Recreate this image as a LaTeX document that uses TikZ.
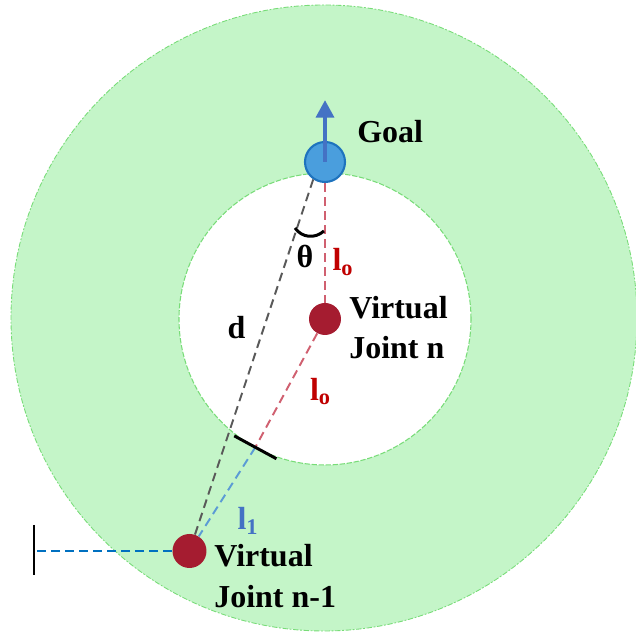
\documentclass[tikz,border=0pt]{standalone}
\usepackage{fontspec}
\setmainfont{Liberation Serif}
\usepackage{xcolor}
\usetikzlibrary{positioning,calc,arrows.meta}
\definecolor{ringgreen}{RGB}{196,245,200}
\definecolor{ringedge}{RGB}{120,220,120}
\definecolor{goalblue}{RGB}{74,158,221}
\definecolor{goaledge}{RGB}{30,115,190}
\definecolor{arrowblue}{RGB}{68,114,196}
\definecolor{jointred}{RGB}{165,28,48}
\definecolor{linkred}{RGB}{208,96,112}
\definecolor{labelred}{RGB}{192,0,0}
\definecolor{linkblue}{RGB}{91,155,213}
\definecolor{wallblue}{RGB}{0,112,192}
\begin{document}
\begin{tikzpicture}[x=0.02cm,y=0.02cm,
  font=\fontsize{18.2}{23}\selectfont\bfseries,
  joint/.style={circle,fill=jointred,inner sep=0pt,minimum size=0.68cm},
  link/.style={dashed,dash pattern=on 5pt off 3pt,line width=1.1pt},
  lbl/.style={inner sep=0pt}]
\useasboundingbox (0,0) rectangle (636,634);
\begin{scope}
\clip (0,0) rectangle (636,634);
\fill[ringgreen] (324,316) circle (313);
\draw[ringedge,dash pattern=on 3pt off 1pt on 1pt off 1pt,line width=0.5pt] (324,316) circle (313);
\end{scope}
\fill[white] (325,315) circle (146);
\draw[ringedge,dash pattern=on 3pt off 1pt,line width=0.6pt] (325,315) circle (146);

\node[circle,fill=goalblue,draw=goaledge,line width=1.2pt,inner sep=0pt,minimum size=0.8cm] (goal) at (325,472) {};
\node[joint,minimum size=0.64cm] (jointn) at (325,315) {};
\node[joint] (jointprev) at (189.5,83) {};
\coordinate (cross) at ($(jointn)+(241.5:146)$);
\coordinate (wall) at (34,83);

\draw[link,black!65] (jointprev) -- (goal.236);
\draw[link,linkred] (goal) -- (jointn);
\draw[link,linkred] (jointn) -- (cross);
\draw[link,linkblue] (cross) -- (jointprev);
\draw[link,wallblue] (jointprev) -- (wall);
\draw[line width=1.7pt] ($(cross)+(151.5:24)$) -- ($(cross)+(-28.5:24)$);
\draw[line width=1.7pt] (34,109) -- (34,59);
\draw[line width=1.7pt] (295,406) .. controls (302,396) and (315,395) .. (324,403);
\draw[arrowblue,line width=2.6pt,-{Triangle[length=10pt,width=10pt]}] (goal.center) -- (325,534);

\node[lbl,anchor=west] (goallbl) at (357,502) {Goal};
\node[lbl] (theta) at (305,378) {θ};
\node[lbl,labelred] (lo1) at (343,372) {l\textsubscript{o}};
\node[lbl] (dlbl) at (236.5,306) {d};
\node[lbl,labelred] (lo2) at (320.5,242.5) {l\textsubscript{o}};
\node[lbl,arrowblue] (l1) at (248,113) {l\textsubscript{1}};
\node[lbl,anchor=west,align=left] (nlbl) at (349,306.5) {Virtual\\Joint n};
\node[lbl,anchor=west,align=left] (prevlbl) at (214,58) {Virtual\\Joint n-1};
\end{tikzpicture}
\end{document}
